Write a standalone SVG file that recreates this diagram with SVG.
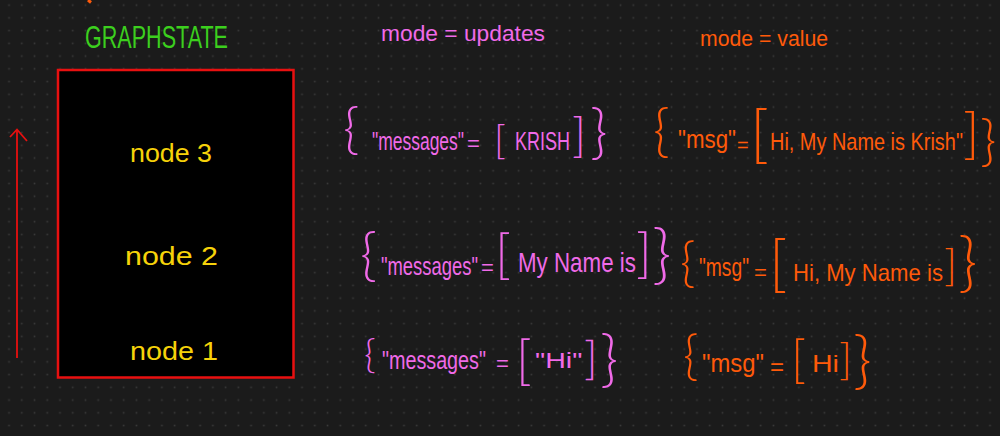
<svg xmlns="http://www.w3.org/2000/svg" width="1000" height="436" viewBox="0 0 1000 436">
<defs>
<pattern id="dots" patternUnits="userSpaceOnUse" x="2.63" y="-1.27" width="12.74" height="12.74">
<rect x="5.6" y="5.6" width="1.6" height="1.6" fill="#3a3a3a"/>
</pattern>
</defs>
<style>
text{font-family:"Liberation Sans",Arial,sans-serif;}
.pk{fill:#f06ae8;}
.or{fill:#ff5a0a;}
.yl{fill:#f6d20a;}
.gr{fill:#3ccf1e;}
.br{font-family:Lato,"Liberation Sans",sans-serif;font-weight:300;}
</style>
<rect width="1000" height="436" fill="#1b1b1b"/>
<rect width="1000" height="436" fill="url(#dots)"/>
<path d="M88,0 L91,2.5" stroke="#ff5a0a" stroke-width="3" fill="none"/>

<g id="title">
<text class="gr" x="85" y="48" font-size="32" textLength="143" lengthAdjust="spacingAndGlyphs">GRAPHSTATE</text>
</g>
<g id="label-updates">
<text class="pk" x="381" y="41" font-size="22" textLength="164" lengthAdjust="spacingAndGlyphs">mode = updates</text>
</g>
<g id="label-value">
<text class="or" x="700" y="46" font-size="22" textLength="128" lengthAdjust="spacingAndGlyphs">mode = value</text>
</g>

<g id="graphstate">
<rect x="58" y="70" width="235.5" height="307.5" fill="#000" stroke="#e81010" stroke-width="2.5"/>
</g>
<g id="node3">
<text class="yl" x="130" y="162" font-size="26" textLength="82" lengthAdjust="spacingAndGlyphs">node 3</text>
</g>
<g id="node2">
<text class="yl" x="125" y="265" font-size="26" textLength="93" lengthAdjust="spacingAndGlyphs">node 2</text>
</g>
<g id="node1">
<text class="yl" x="130" y="360" font-size="26" textLength="88" lengthAdjust="spacingAndGlyphs">node 1</text>
</g>

<g id="connectors">
<line x1="17" y1="358" x2="17" y2="130" stroke="#e81010" stroke-width="1.8"/>
<polyline points="10,137 17,129.5 27,141" fill="none" stroke="#e81010" stroke-width="1.8"/>
</g>

<g id="updates-node3">
<text class="pk br" x="343" y="148" font-size="56">{</text>
<text class="pk" font-size="26" transform="translate(372,150) scale(0.672,1)">"messages"</text>
<text class="pk" x="467" y="151" font-size="22">=</text>
<text class="pk br" x="494" y="153.5" font-size="40">[</text>
<text class="pk" font-size="26" transform="translate(515,150) scale(0.692,1)">KRISH</text>
<text class="pk br" x="572" y="152" font-size="47">]</text>
<text class="pk br" x="590" y="152" font-size="60">}</text>
</g>
<g id="value-node3">
<text class="or br" x="653" y="150" font-size="57">{</text>
<text class="or" font-size="26" transform="translate(678,148) scale(0.858,1)">"msg"</text>
<text class="or" x="737" y="152" font-size="20">=</text>
<text class="or br" x="750" y="156" font-size="64">[</text>
<text class="or" font-size="24" transform="translate(770,150) scale(0.83,1)">Hi, My Name is Krish"</text>
<text class="or br" x="963" y="153" font-size="56">]</text>
<text class="or br" x="980" y="160" font-size="56">}</text>
</g>

<g id="updates-node2">
<text class="pk br" x="360" y="274" font-size="58">{</text>
<text class="pk" font-size="26" transform="translate(381,275) scale(0.708,1)">"messages"</text>
<text class="pk" x="481" y="275" font-size="22">=</text>
<text class="pk br" x="495" y="273" font-size="54">[</text>
<text class="pk" font-size="28" transform="translate(518,272) scale(0.798,1)">My Name is</text>
<text class="pk br" x="636" y="272" font-size="53">]</text>
<text class="pk br" x="652" y="276" font-size="66">}</text>
</g>
<g id="value-node2">
<text class="or br" x="680" y="281" font-size="53">{</text>
<text class="or" font-size="26" transform="translate(699,276) scale(0.74,1)">"msg"</text>
<text class="or" x="754" y="280" font-size="22">=</text>
<text class="or br" x="769" y="285" font-size="62">[</text>
<text class="or" font-size="24" transform="translate(793,281) scale(0.922,1)">Hi, My Name is</text>
<text class="or br" x="944" y="281" font-size="44">]</text>
<text class="or br" x="958" y="284" font-size="66">}</text>
</g>

<g id="updates-node1">
<text class="pk br" x="364" y="368" font-size="40">{</text>
<text class="pk" font-size="26" transform="translate(382,369) scale(0.759,1)">"messages"</text>
<text class="pk" x="496" y="371" font-size="22">=</text>
<text class="pk br" x="516" y="379" font-size="53">[</text>
<text class="pk" font-size="22" transform="translate(535,368) scale(1.3,1)">"Hi"</text>
<text class="pk br" x="584" y="374" font-size="46">]</text>
<text class="pk br" x="600" y="380" font-size="62">}</text>
</g>
<g id="value-node1">
<text class="or br" x="683" y="374" font-size="53">{</text>
<text class="or" font-size="26" transform="translate(702,372) scale(0.917,1)">"msg"</text>
<text class="or" x="770" y="375" font-size="24">=</text>
<text class="or br" x="791" y="377" font-size="51">[</text>
<text class="or" font-size="24" transform="translate(812,372) scale(1.19,1)">Hi</text>
<text class="or br" x="839" y="375" font-size="44">]</text>
<text class="or br" x="853" y="382" font-size="64">}</text>
</g>
</svg>
